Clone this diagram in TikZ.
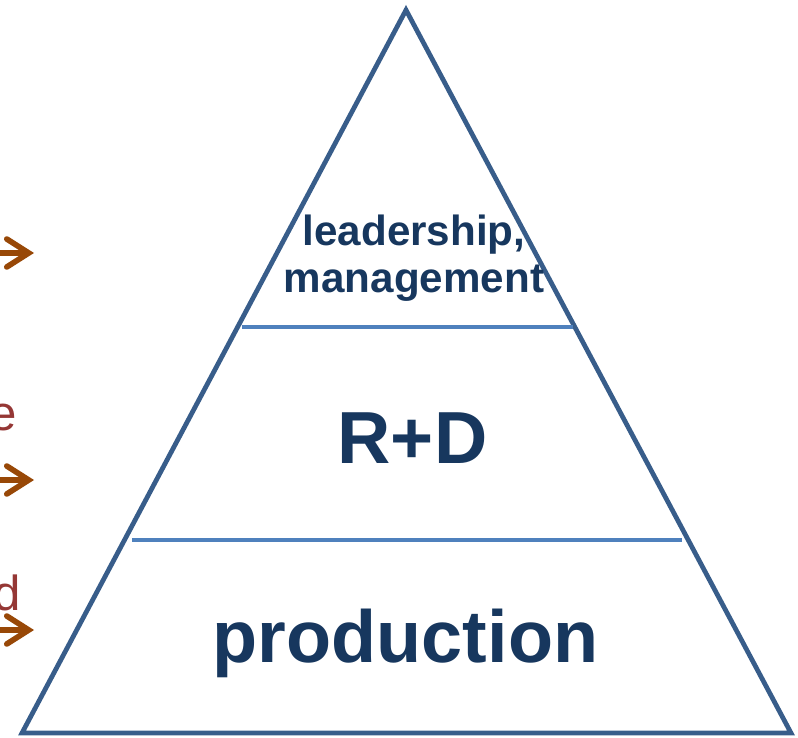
\documentclass[tikz,border=0pt]{standalone}
\usepackage{fontspec}
\setmainfont{Liberation Sans}
\usepackage{tikz}
\usetikzlibrary{arrows.meta,positioning}
\definecolor{pyrblue}{RGB}{56,93,138}
\definecolor{tierblue}{RGB}{79,129,189}
\definecolor{tiertext}{RGB}{23,55,94}
\definecolor{sidetext}{RGB}{149,55,53}
\definecolor{pointer}{RGB}{152,72,7}
\tikzset{
  tier/.style={font=\bfseries,text=tiertext,align=center,inner sep=0pt},
  pointer/.style={-{Straight Barb[length=4.4mm,width=5.6mm,line cap=round]},
    line width=3.2pt,draw=pointer}}

\begin{document}
\begin{tikzpicture}[
  pyramid/.style={line width=2.7pt,draw=pyrblue,line join=miter},
  divider/.style={line width=2.2pt,draw=tierblue},
  sidelabel/.style={font=\fontsize{28}{30}\selectfont,text=sidetext,
    inner sep=0pt,anchor=base east}]
  \useasboundingbox (0,0) rectangle (15.96,14.74);

  % pyramid outline
  \coordinate (apex) at (8.12,14.54);
  \coordinate (baseL) at (0.44,0.08);
  \coordinate (baseR) at (15.82,0.08);
  \draw[pyramid] (apex) -- (baseR) -- (baseL) -- cycle;

  % level dividers
  \coordinate (topL) at (4.84,8.2);
  \coordinate (topR) at (11.46,8.2);
  \coordinate (midL) at (2.64,3.94);
  \coordinate (midR) at (13.64,3.94);
  \draw[divider] (topL) -- (topR);
  \draw[divider] (midL) -- (midR);

  % level names
  \node[tier,font=\fontsize{24}{27}\selectfont\bfseries] (lead) at (8.28,9.58)
    {leadership,\\management};
  \node[tier,font=\fontsize{42}{45}\selectfont\bfseries,anchor=base] (rd)
    at (8.25,5.48) {R+D};
  \node[tier,font=\fontsize{42}{45}\selectfont\bfseries,anchor=base] (prod)
    at (8.11,1.5) {production};

  % labels on the left
  \node[sidelabel] (sideE) at (0.34,6.14) {e};
  \node[sidelabel] (sideD) at (0.42,2.54) {d};

  % pointers into the levels
  \coordinate (leadIn) at (-0.1,9.68);
  \coordinate (leadTip) at (0.68,9.68);
  \coordinate (rdIn) at (-0.1,5.14);
  \coordinate (rdTip) at (0.68,5.14);
  \coordinate (prodIn) at (-0.1,2.14);
  \coordinate (prodTip) at (0.68,2.14);
  \draw[pointer] (leadIn) -- (leadTip);
  \draw[pointer] (rdIn) -- (rdTip);
  \draw[pointer] (prodIn) -- (prodTip);
\end{tikzpicture}
\end{document}
